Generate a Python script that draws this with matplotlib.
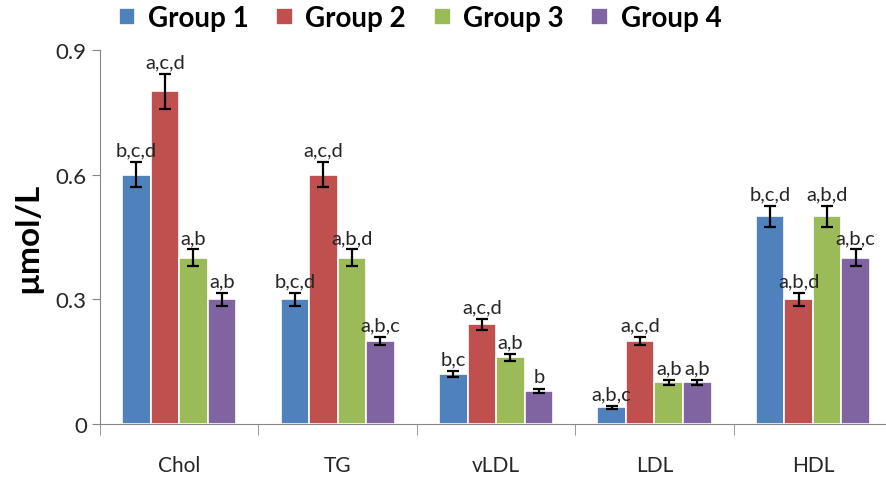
import numpy as np
import matplotlib
matplotlib.use("Agg")
import matplotlib.pyplot as plt

plt.rcParams["font.family"] = ["Lato", "DejaVu Sans"]

categories = ["Chol", "TG", "vLDL", "LDL", "HDL"]
groups = ["Group 1", "Group 2", "Group 3", "Group 4"]
colors = ["#4F81BD", "#C0504D", "#9BBB59", "#8064A2"]

means = [
    [0.60, 0.30, 0.12, 0.04, 0.50],   # Group 1
    [0.80, 0.60, 0.24, 0.20, 0.30],   # Group 2
    [0.40, 0.40, 0.16, 0.10, 0.50],   # Group 3
    [0.30, 0.20, 0.08, 0.10, 0.40],   # Group 4
]
errors = [
    [0.030, 0.015, 0.008, 0.004, 0.025],
    [0.042, 0.030, 0.013, 0.010, 0.015],
    [0.020, 0.020, 0.008, 0.006, 0.025],
    [0.015, 0.010, 0.005, 0.006, 0.020],
]
letters = [
    ["b,c,d", "b,c,d", "b,c", "a,b,c", "b,c,d"],
    ["a,c,d", "a,c,d", "a,c,d", "a,c,d", "a,b,d"],
    ["a,b", "a,b,d", "a,b", "a,b", "a,b,d"],
    ["a,b", "a,b,c", "b", "a,b", "a,b,c"],
]

fig = plt.figure(figsize=(8.86, 4.81), dpi=100)
ax = fig.add_axes([0.1129, 0.1164, 0.894, 0.778])

x = np.arange(len(categories))
w = 0.18
txt = "#262626"
for i, (g, c) in enumerate(zip(groups, colors)):
    xs = x + (i - 1.5) * w
    ax.bar(xs, means[i], w, color=c, edgecolor="white", linewidth=1.2,
           label=g, zorder=2)
    ax.errorbar(xs, means[i], yerr=errors[i], fmt="none", ecolor="black",
                elinewidth=1.6, capsize=4, capthick=1.6, zorder=3)
    for xp, m, e, lab in zip(xs, means[i], errors[i], letters[i]):
        ax.text(xp, m + e + 0.008, lab, ha="center", va="bottom",
                fontsize=14.5, color=txt, zorder=4)

ax.set_xlim(-0.5, len(categories) - 0.5)
ax.set_ylim(0, 0.9)
ax.set_yticks([0, 0.3, 0.6, 0.9])
ax.set_yticklabels(["0", "0.3", "0.6", "0.9"])
ax.set_xticks(x)
ax.set_xticklabels(categories)
ax.set_xticks(np.arange(len(categories) + 1) - 0.5, minor=True)
ax.tick_params(axis="x", which="major", length=0, pad=22, labelsize=15, labelcolor=txt)
ax.tick_params(axis="x", which="minor", length=8, color="#868686")
ax.tick_params(axis="y", length=6, color="#868686", labelsize=16, labelcolor=txt)
for s in ("top", "right"):
    ax.spines[s].set_visible(False)
for s in ("left", "bottom"):
    ax.spines[s].set_color("#868686")
ax.set_ylabel("µmol/L", fontsize=24, fontweight="bold", color="black", labelpad=10)

fig.legend(*ax.get_legend_handles_labels(), loc="center", bbox_to_anchor=(0.474, 0.96),
           ncol=4, frameon=False, prop={"size": 20, "weight": "bold"},
           handlelength=0.6, handleheight=0.6, handletextpad=0.45, columnspacing=1.0)

fig.savefig("out.png", dpi=100)
